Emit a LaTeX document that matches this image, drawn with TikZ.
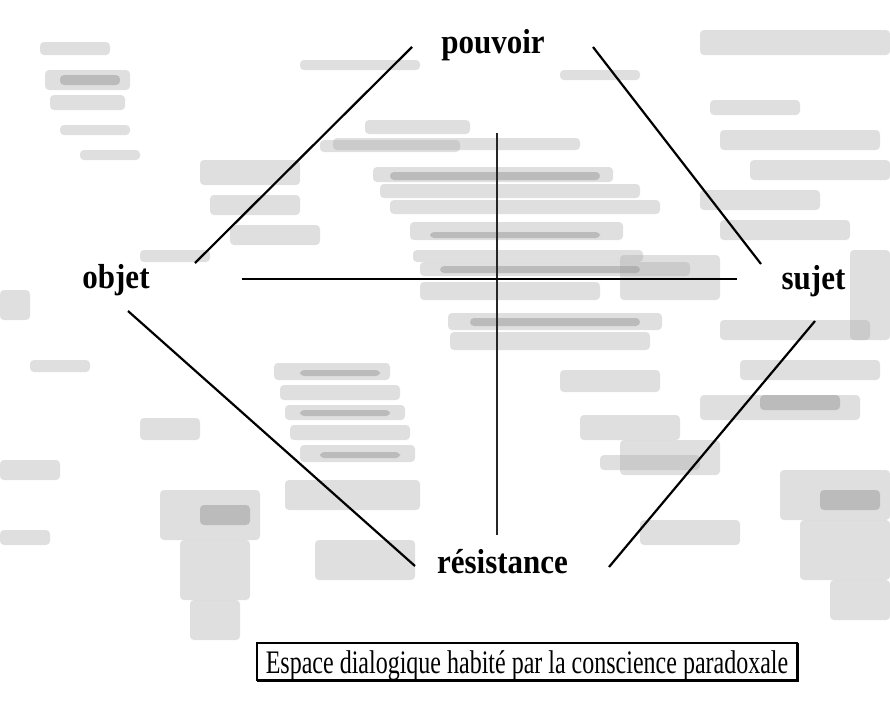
\documentclass[tikz,border=0pt]{standalone}
\usepackage{fontspec}
\setmainfont{Liberation Serif}
\begin{document}
\begin{tikzpicture}[x=1pt,y=-1pt,
  lbl/.style={font=\bfseries\fontsize{31}{31}\selectfont, inner sep=0pt, anchor=base},
  streak/.style={fill=gray!70, draw=none, opacity=0.35, rounded corners=4pt},
  dstreak/.style={fill=gray!80, draw=none, opacity=0.5, rounded corners=4pt},
  axis/.style={line width=2.6pt, black},
  thinaxis/.style={line width=1.2pt, black!85},
  diag/.style={line width=2.2pt, black},
  capbox/.style={draw=black, line width=1.1pt, minimum width=540pt, minimum height=37pt, inner sep=0pt, fill=white}]
\useasboundingbox (0,0) rectangle (890,704);
\fill[white] (0,0) rectangle (890,704);
% background texture (approximate halftone streaks)
\foreach \a/\b/\c/\d in {
  365/120/470/134, 333/138/580/150, 320/140/460/152,
  373/167/613/182, 380/184/640/198, 390/200/660/214,
  410/222/623/240, 413/250/643/262, 420/262/690/276,
  620/255/720/300, 420/282/600/300, 448/313/662/330, 450/332/650/350,
  560/370/660/392, 580/415/680/440, 600/455/700/470,
  274/363/390/380, 280/385/400/400, 285/405/405/420, 290/425/410/440, 300/445/415/462,
  285/480/420/510, 315/540/415/580,
  40/42/110/55, 45/70/130/90, 50/95/125/110, 60/125/130/135, 80/150/140/160,
  200/160/300/185, 210/195/300/215, 230/225/320/245,
  0/290/30/320, 140/418/200/440, 160/490/260/540, 180/540/250/600, 190/600/240/640,
  0/460/60/480, 0/530/50/545, 30/360/90/372,
  700/30/890/55, 710/100/800/115, 720/130/880/150, 750/160/890/180, 700/190/820/210, 720/220/850/240,
  850/250/890/340, 720/320/870/340, 740/360/880/380, 700/395/860/420,
  780/470/890/520, 800/520/890/580, 830/580/890/620, 620/440/720/475, 640/520/740/545,
  140/250/210/262, 300/60/420/70, 560/70/640/80}
  {\fill[streak] (\a,\b) rectangle (\c,\d);}
\foreach \a/\b/\c/\d in {
  390/172/600/180, 430/232/600/238, 440/266/640/273, 470/318/640/326,
  300/370/380/376, 300/410/390/416, 320/452/400/458, 200/505/250/525,
  820/490/880/510, 760/395/840/410, 60/75/120/85}
  {\fill[dstreak] (\a,\b) rectangle (\c,\d);}
% labels
\node[lbl] (pouvoir) at (493,53) {\scalebox{1}[1.12]{pouvoir}};
\node[lbl] (objet) at (116,288) {\scalebox{1}[1.12]{objet}};
\node[lbl] (sujet) at (813.5,289) {\scalebox{1}[1.12]{sujet}};
\node[lbl] (resistance) at (502.5,573) {\scalebox{1}[1.12]{résistance}};
% line end points
\coordinate (ulA) at (412,47);
\coordinate (ulB) at (195,263);
\coordinate (urA) at (593,47);
\coordinate (urB) at (761,264);
\coordinate (llA) at (128,311);
\coordinate (llB) at (415,566);
\coordinate (lrA) at (815,321);
\coordinate (lrB) at (609,567);
\coordinate (hA) at (242,279);
\coordinate (hB) at (737,279);
\coordinate (vA) at (497,133);
\coordinate (vB) at (497,535);
\draw[diag] (ulA) -- (ulB);
\draw[diag] (urA) -- (urB);
\draw[diag] (llA) -- (llB);
\draw[diag] (lrA) -- (lrB);
\draw[thinaxis] (vA) -- (vB);
\draw[axis] (hA) -- (hB);
% caption box
\node[capbox] (caption) at (527,661.5) {};
\draw[line width=1pt] ([xshift=1pt,yshift=-1pt]caption.south west) -- ([xshift=1pt,yshift=-1pt]caption.south east) -- ([xshift=1pt,yshift=-1pt]caption.north east);
\node[font=\fontsize{24}{24}\selectfont, inner sep=0pt, anchor=base] (captext) at (527,673) {\scalebox{1}[1.37]{Espace dialogique habité par la conscience paradoxale}};
\end{tikzpicture}
\end{document}
